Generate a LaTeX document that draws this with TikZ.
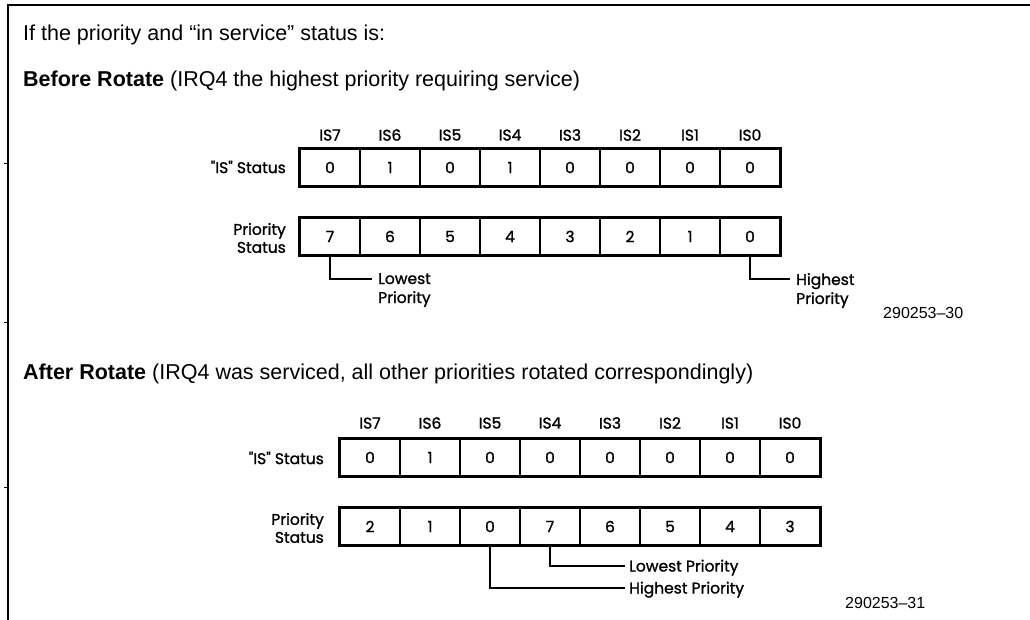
\documentclass[tikz,border=0pt]{standalone}
\usepackage{fontspec}
\setmainfont{Liberation Sans}
\newfontfamily\dg{Poppins}[FakeBold=1.2]
\begin{document}
\begin{tikzpicture}[x=1pt,y=-1pt,
  cell/.style={draw, line width=1.6pt, minimum width=60pt, minimum height=37pt, inner sep=0pt, font=\dg\fontsize{15.5}{18}\selectfont},
  hdr/.style={inner sep=0pt, font=\dg\fontsize{15.5}{18}\selectfont},
  lbl/.style={inner sep=0pt, font=\dg\fontsize{15.5}{18}\selectfont, align=right, anchor=east},
  note/.style={inner sep=0pt, font=\dg\fontsize{15.5}{19}\selectfont, align=left},
  conn/.style={line width=2pt},
  outer/.style={line width=3.2pt},
  head/.style={inner sep=0pt, anchor=base west, font=\fontsize{21.5}{25}\selectfont},
  fig/.style={inner sep=0pt, anchor=base west, font=\fontsize{16}{19}\selectfont}
]
\useasboundingbox (0,0) rectangle (1030,620);
% frame
\draw[line width=1.2pt] (1030,5) -- (8,5) -- (8,620);
\draw[line width=0.8pt] (4,163) -- (8,163) (4,322) -- (8,322) (4,487) -- (8,487);
% headings
\node[head] (t1) at (23,41) {If the priority and \textquotedblleft in service\textquotedblright\ status is:};
\node[head] (t2) at (23,87) {\textbf{Before Rotate} (IRQ4 the highest priority requiring service)};
\node[head] (t3) at (23,379) {\textbf{After Rotate} (IRQ4 was serviced, all other priorities rotated correspondingly)};
% ---- before rotate
\foreach \v [count=\i from 0] in {0,1,0,1,0,0,0,0} {
  \pgfmathtruncatemacro\k{7-\i}
  \node[cell] (a\k) at (330+60*\i,167.5) {\v};
  \node[hdr] (ha\k) at (330+60*\i,135) {IS\k};
}
\foreach \v [count=\i from 0] in {7,6,5,4,3,2,1,0} {
  \pgfmathtruncatemacro\k{7-\i}
  \node[cell] (p\k) at (330+60*\i,236.5) {\v};
}
\draw[outer] (a7.north west) rectangle (a0.south east);
\draw[outer] (p7.north west) rectangle (p0.south east);
\node[lbl] (isA) at (286,167) {"IS" Status};
\node[lbl] (prA) at (286,238) {Priority\\Status};
\coordinate (lowA) at (372,279);
\draw[conn] (p7.south) |- (lowA);
\node[note, anchor=north west] (lowAt) at (378,273) {Lowest\\Priority};
\coordinate (highA) at (790,279);
\draw[conn] (p0.south) |- (highA);
\node[note, anchor=north west] (highAt) at (796,273) {Highest\\Priority};
\node[fig] (f1) at (883,318) {290253–30};
% ---- after rotate
\foreach \v [count=\i from 0] in {0,1,0,0,0,0,0,0} {
  \pgfmathtruncatemacro\k{7-\i}
  \node[cell] (b\k) at (370+60*\i,457.5) {\v};
  \node[hdr] (hb\k) at (370+60*\i,423) {IS\k};
}
\foreach \v [count=\i from 0] in {2,1,0,7,6,5,4,3} {
  \pgfmathtruncatemacro\k{7-\i}
  \node[cell] (q\k) at (370+60*\i,526.5) {\v};
}
\draw[outer] (b7.north west) rectangle (b0.south east);
\draw[outer] (q7.north west) rectangle (q0.south east);
\node[lbl] (isB) at (324,458) {"IS" Status};
\node[lbl] (prB) at (324,528) {Priority\\Status};
\coordinate (lowB) at (625,566);
\draw[conn] (q4.south) |- (lowB);
\node[note, anchor=base west] (lowBt) at (629,571.5) {Lowest Priority};
\coordinate (highB) at (625,588);
\draw[conn] (q5.south) |- (highB);
\node[note, anchor=base west] (highBt) at (629,593.5) {Highest Priority};
\node[fig] (f2) at (845,608) {290253–31};
\end{tikzpicture}
\end{document}
